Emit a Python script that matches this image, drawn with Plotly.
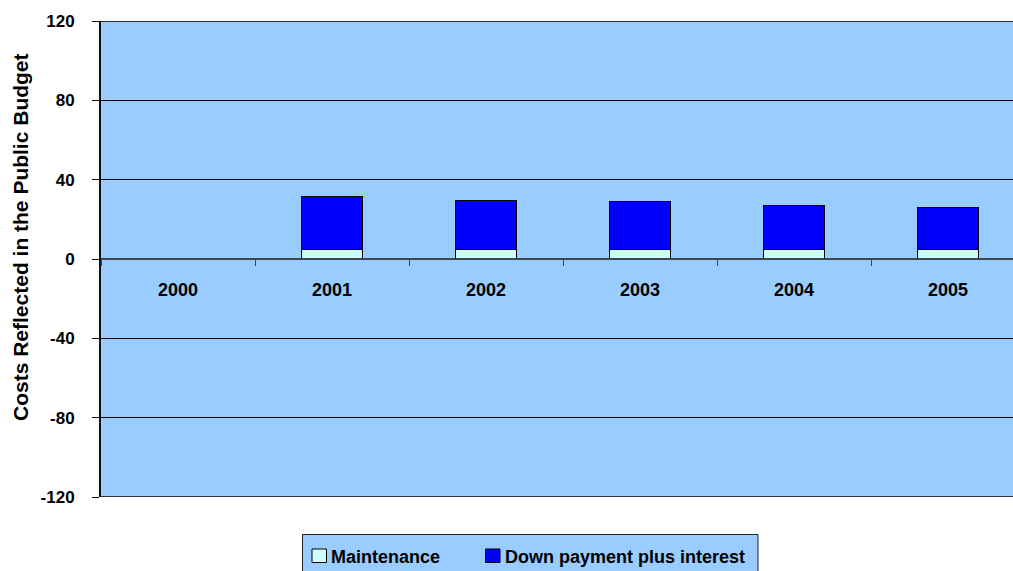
import plotly.graph_objects as go

# Annual cost components (stacked)
years = ["2000", "2001", "2002", "2003", "2004", "2005"]
maintenance = [None, 4.7, 4.7, 4.7, 4.7, 4.7]
down_payment = [None, 26.7, 25.0, 24.2, 22.4, 21.4]

y_ticks = [-120, -80, -40, 0, 40, 80, 120]
y_tick_text = ["-120", "-80", "-40", "0", "40", "80", "120"]

series_names = ["Maintenance", "Down payment plus interest"]
series_colors = ["#CCFFFF", "#0000FF"]

W, H = 1013, 571
ML, MT, MB = 101, 21, 74
band_px = 154.0
plot_w = W - ML
plot_h = H - MT - MB

BOLD = dict(family="Arial, Liberation Sans, sans-serif", color="black", weight="bold")


def px_x(px):
    return (px - ML) / plot_w


def px_y(py):
    return 1 - (py - MT) / plot_h


fig = go.Figure()
for name, vals, color in zip(series_names, [maintenance, down_payment], series_colors):
    fig.add_trace(go.Bar(
        x=years, y=vals, name=name,
        marker=dict(color=color, line=dict(color="black", width=1)),
    ))

fig.update_layout(
    width=W, height=H,
    margin=dict(l=ML, r=0, t=MT, b=MB, pad=0, autoexpand=False),
    barmode="stack", bargap=0.6,
    paper_bgcolor="white", plot_bgcolor="#99CCFF",
    showlegend=False,
    xaxis=dict(
        type="category", range=[-0.5, -0.5 + plot_w / band_px],
        anchor="free", position=0.5,
        showline=True, linecolor="#3c4452", linewidth=2,
        ticks="outside", tickson="boundaries", ticklen=6, tickwidth=1, tickcolor="#3c4452",
        ticklabelstandoff=14,
        tickfont=dict(size=18, **BOLD),
        showgrid=False, zeroline=False, fixedrange=True,
    ),
    yaxis=dict(
        range=[-120, 120], tickvals=y_ticks, ticktext=y_tick_text,
        showline=True, linecolor="#111111", linewidth=2,
        ticks="outside", ticklen=7, tickwidth=1, tickcolor="#111111",
        ticklabelstandoff=14,
        tickfont=dict(size=17, **BOLD),
        showgrid=True, gridcolor="black", gridwidth=1,
        zeroline=False, fixedrange=True,
    ),
)

# Frame lines at the top and bottom of the value range
fig.add_shape(type="line", xref="paper", yref="y", x0=0, x1=1, y0=120, y1=120,
              line=dict(color="#2a3038", width=2))
fig.add_shape(type="line", xref="paper", yref="y", x0=0, x1=1, y0=-120, y1=-120,
              line=dict(color="black", width=1.5))

# Vertical axis title
fig.add_annotation(
    text="Costs Reflected in the Public Budget",
    xref="paper", yref="paper",
    x=px_x(21), y=px_y(237),
    xanchor="center", yanchor="middle", textangle=-90, showarrow=False,
    font=dict(size=21, **BOLD),
)

# Legend box below the plot
fig.add_shape(type="rect", xref="paper", yref="paper",
              x0=px_x(302.5), x1=px_x(758), y0=px_y(534.5), y1=px_y(585),
              fillcolor="#99CCFF", line=dict(color="#222222", width=1))
swatch_left = [312, 485.5]
text_left = [331, 505]
for name, color, sx, tx in zip(series_names, series_colors, swatch_left, text_left):
    fig.add_shape(type="rect", xref="paper", yref="paper",
                  x0=px_x(sx), x1=px_x(sx + 14.5), y0=px_y(549), y1=px_y(562.5),
                  fillcolor=color, line=dict(color="black", width=1))
    fig.add_annotation(
        text=name, xref="paper", yref="paper",
        x=px_x(tx - 2), y=px_y(557), xanchor="left", yanchor="middle",
        showarrow=False, font=dict(size=18, **BOLD),
    )

fig.write_html("out.html")
